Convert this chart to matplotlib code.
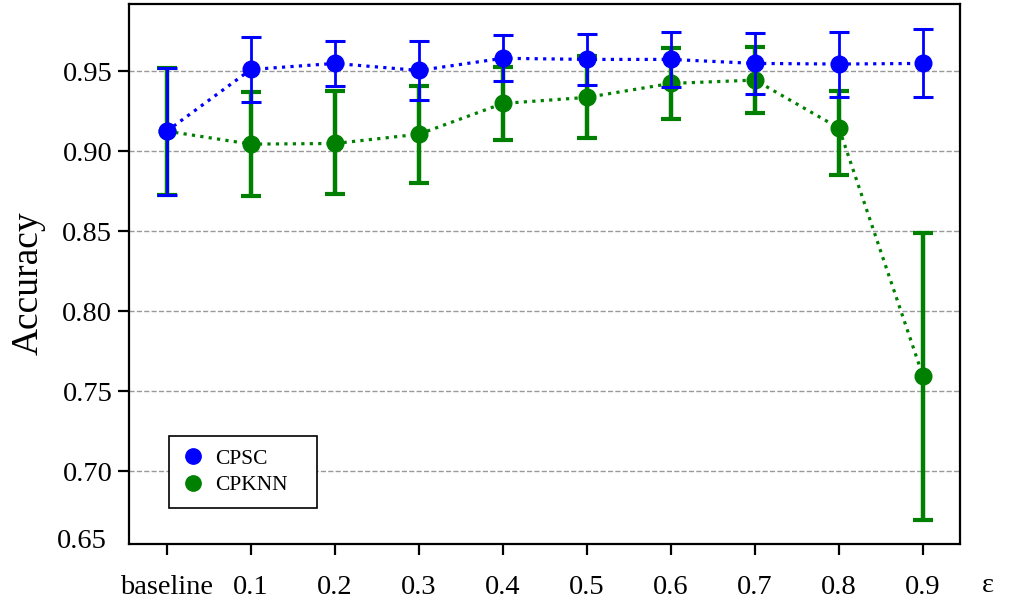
import numpy as np
import matplotlib
matplotlib.use("Agg")
from matplotlib import pyplot as plt

plt.rcParams.update({
    'font.family': ['Liberation Serif', 'DejaVu Serif'],
})

# data
eps_labels = ["baseline", "0.1", "0.2", "0.3", "0.4", "0.5", "0.6", "0.7", "0.8", "0.9"]

cpsc_mean = [0.9125, 0.951, 0.9548, 0.9504, 0.9580, 0.9573, 0.9573, 0.9548, 0.9544, 0.9548]
cpsc_low = [0.8725, 0.931, 0.9406, 0.932, 0.9437, 0.9413, 0.9400, 0.9356, 0.9338, 0.9336]
cpsc_high = [0.952, 0.971, 0.9690, 0.969, 0.9725, 0.9730, 0.9746, 0.9736, 0.9744, 0.9763]

cpknn_mean = [0.9125, 0.9044, 0.9048, 0.9106, 0.9298, 0.9336, 0.9423, 0.9444, 0.9144, 0.7594]
cpknn_low = [0.8725, 0.872, 0.873, 0.880, 0.9067, 0.908, 0.920, 0.9236, 0.885, 0.6694]
cpknn_high = [0.952, 0.937, 0.9373, 0.941, 0.9527, 0.9594, 0.9642, 0.9652, 0.9375, 0.849]

x = np.arange(len(eps_labels))
cpsc_err = [np.array(cpsc_mean) - np.array(cpsc_low), np.array(cpsc_high) - np.array(cpsc_mean)]
cpknn_err = [np.array(cpknn_mean) - np.array(cpknn_low), np.array(cpknn_high) - np.array(cpknn_mean)]

fig = plt.figure(figsize=(10.15, 6.04), dpi=100)
ax = fig.add_axes([129 / 1015, 1 - 544 / 604, (960 - 129) / 1015, (544 - 4) / 604])

ax.errorbar(x, cpknn_mean, yerr=cpknn_err, fmt='o', color='green', ms=12,
            elinewidth=3.2, capsize=7, capthick=3, zorder=3, label='CPKNN')
ax.plot(x, cpknn_mean, ':', color='green', lw=2.3, zorder=2)
ax.errorbar(x, cpsc_mean, yerr=cpsc_err, fmt='o', color='blue', ms=12,
            elinewidth=2, capsize=7, capthick=2.2, zorder=4, label='CPSC')
ax.plot(x, cpsc_mean, ':', color='blue', lw=2.3, zorder=4)

ax.set_xlim(-0.45, 9.44)
ax.set_ylim(0.6547, 0.9919)
ax.set_xticks(x)
ax.set_xticklabels(eps_labels)
ax.set_yticks([0.70, 0.75, 0.80, 0.85, 0.90, 0.95])
ax.set_yticklabels(["0.70", "0.75", "0.80", "0.85", "0.90", "0.95"])
ax.tick_params(axis='both', labelsize=20.5, width=1.6, length=8, direction='out')
ax.tick_params(axis='x', pad=14)
ax.tick_params(axis='y', pad=4)
for sp in ax.spines.values():
    sp.set_linewidth(1.6)

# 0.65 sits on the bottom edge without a tick
ax.text(-0.027, 0.005, "0.65", transform=ax.transAxes, ha='right', va='center',
        fontsize=20.5)
# epsilon symbol to the right of the last tick label
ax.text(9.77, -0.077, "ε", transform=ax.get_xaxis_transform(), ha='center',
        va='center', fontsize=20.5)

ax.grid(axis='y', linestyle='--', color='gray', alpha=0.8, lw=1)
ax.set_ylabel('Accuracy', fontsize=27)
ax.yaxis.set_label_coords(-0.1, 0.483)

handles, labels = ax.get_legend_handles_labels()
order = [1, 0]
leg = ax.legend([handles[i][0] for i in order], [labels[i] for i in order],
                loc='lower left', bbox_to_anchor=(0.048, 0.0667, 0.178, 0.13),
                mode='expand', borderaxespad=0, fontsize=15.5, markerscale=0.92,
                fancybox=False, edgecolor='black', framealpha=1,
                handlelength=1.0, handletextpad=0.55, borderpad=0.6, labelspacing=0.3)
leg.get_frame().set_linewidth(1.2)

fig.savefig('out.png', dpi=100)
